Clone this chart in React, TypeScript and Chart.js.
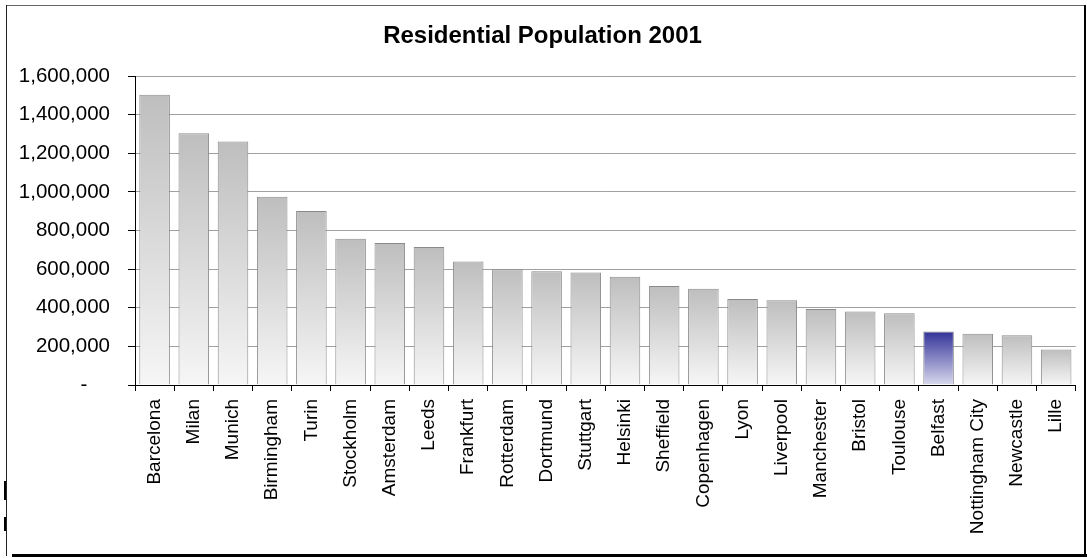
import React, { useEffect, useRef } from "react";
import { Chart, registerables } from "chart.js";

Chart.register(...registerables);

const titleText = "Residential Population 2001";
const cities = [
  "Barcelona", "Milan", "Munich", "Birmingham", "Turin", "Stockholm",
  "Amsterdam", "Leeds", "Frankfurt", "Rotterdam", "Dortmund", "Stuttgart",
  "Helsinki", "Sheffield", "Copenhagen", "Lyon", "Liverpool", "Manchester",
  "Bristol", "Toulouse", "Belfast", "Nottingham City", "Newcastle", "Lille",
];
const population = [
  1503000, 1304000, 1261000, 975000, 901000, 757000,
  735000, 715000, 639000, 599000, 589000, 583000,
  560000, 512000, 498000, 445000, 439000, 393000,
  380000, 372000, 277000, 266000, 258000, 184000,
];
const highlightCity = "Belfast";
const yMin = 0;
const yMax = 1600000;
const yStep = 200000;

const FONT = "'Liberation Sans', Arial, sans-serif";

const framePlugin = {
  id: "frame",
  afterDraw(chart: any) {
    const c = chart.ctx;
    c.save();
    c.fillStyle = "#666";
    c.fillRect(6, 5, 1079, 1);
    c.fillStyle = "#222";
    c.fillRect(6, 5, 1, 551);
    c.fillStyle = "#000";
    c.fillRect(1084, 5, 2, 552);
    c.fillRect(12, 554, 1075, 3);
    c.fillRect(4, 481, 2, 19);
    c.fillRect(4, 517, 2, 14);
    c.restore();
  },
};

export default function App() {
  const ref = useRef<HTMLCanvasElement | null>(null);
  useEffect(() => {
    if (!ref.current) return;
    const chart = new Chart(ref.current, {
      type: "bar",
      data: {
        labels: cities,
        datasets: [
          {
            data: population,
            backgroundColor: (ctx: any) => {
              const ch = ctx.chart;
              const { chartArea, scales } = ch;
              if (!chartArea || !scales.y || ctx.type !== "data") return "#cccccc";
              const v = ctx.raw as number;
              const yTop = scales.y.getPixelForValue(v);
              const yBot = scales.y.getPixelForValue(0);
              const g = ch.ctx.createLinearGradient(0, yTop, 0, yBot);
              const hl = cities[ctx.dataIndex] === highlightCity;
              g.addColorStop(0, hl ? "#333399" : "#bebebe");
              g.addColorStop(1, hl ? "#d8d8ee" : "#f6f6f6");
              return g;
            },
            borderColor: "#8a8a8a",
            borderWidth: 1,
            categoryPercentage: 1,
            barPercentage: 0.78,
          },
        ],
      },
      options: {
        responsive: false,
        animation: false,
        layout: { padding: { top: 0, left: 0, right: 2, bottom: 0 } },
        plugins: {
          legend: { display: false },
          tooltip: { enabled: false },
          title: {
            display: true,
            text: titleText,
            color: "#000",
            font: { family: FONT, size: 24, weight: "bold", lineHeight: 1.2 },
            padding: { top: 22, bottom: 25.2 },
          },
        },
        scales: {
          x: {
            grid: {
              offset: true,
              drawOnChartArea: false,
              drawTicks: true,
              tickLength: 6,
              tickColor: "#000",
            },
            border: { color: "#000", width: 1 },
            ticks: {
              color: "#000",
              font: { family: FONT, size: 19 },
              maxRotation: 90,
              minRotation: 90,
              padding: 8,
              autoSkip: false,
            },
            afterFit: (s: any) => {
              s.height = 173;
            },
          },
          y: {
            min: yMin,
            max: yMax,
            grid: {
              color: "#a0a0a0",
              lineWidth: 1,
              drawTicks: true,
              tickLength: 7,
              tickColor: "#000",
            },
            border: { color: "#000", width: 1 },
            ticks: {
              stepSize: yStep,
              color: "#000",
              font: { family: FONT, size: 20.5 },
              padding: 18,
              callback: (v: any) =>
                Number(v) === 0 ? "-    " : Number(v).toLocaleString("en-US"),
            },
            afterFit: (s: any) => {
              s.width = 135;
            },
          },
        },
      },
      plugins: [framePlugin],
    });
    return () => chart.destroy();
  }, []);
  return (
    <div style={{ position: "absolute", left: 0, top: 0, width: 1087, height: 558, background: "#fff" }}>
      <canvas ref={ref} width={1087} height={558} style={{ display: "block" }} />
    </div>
  );
}
